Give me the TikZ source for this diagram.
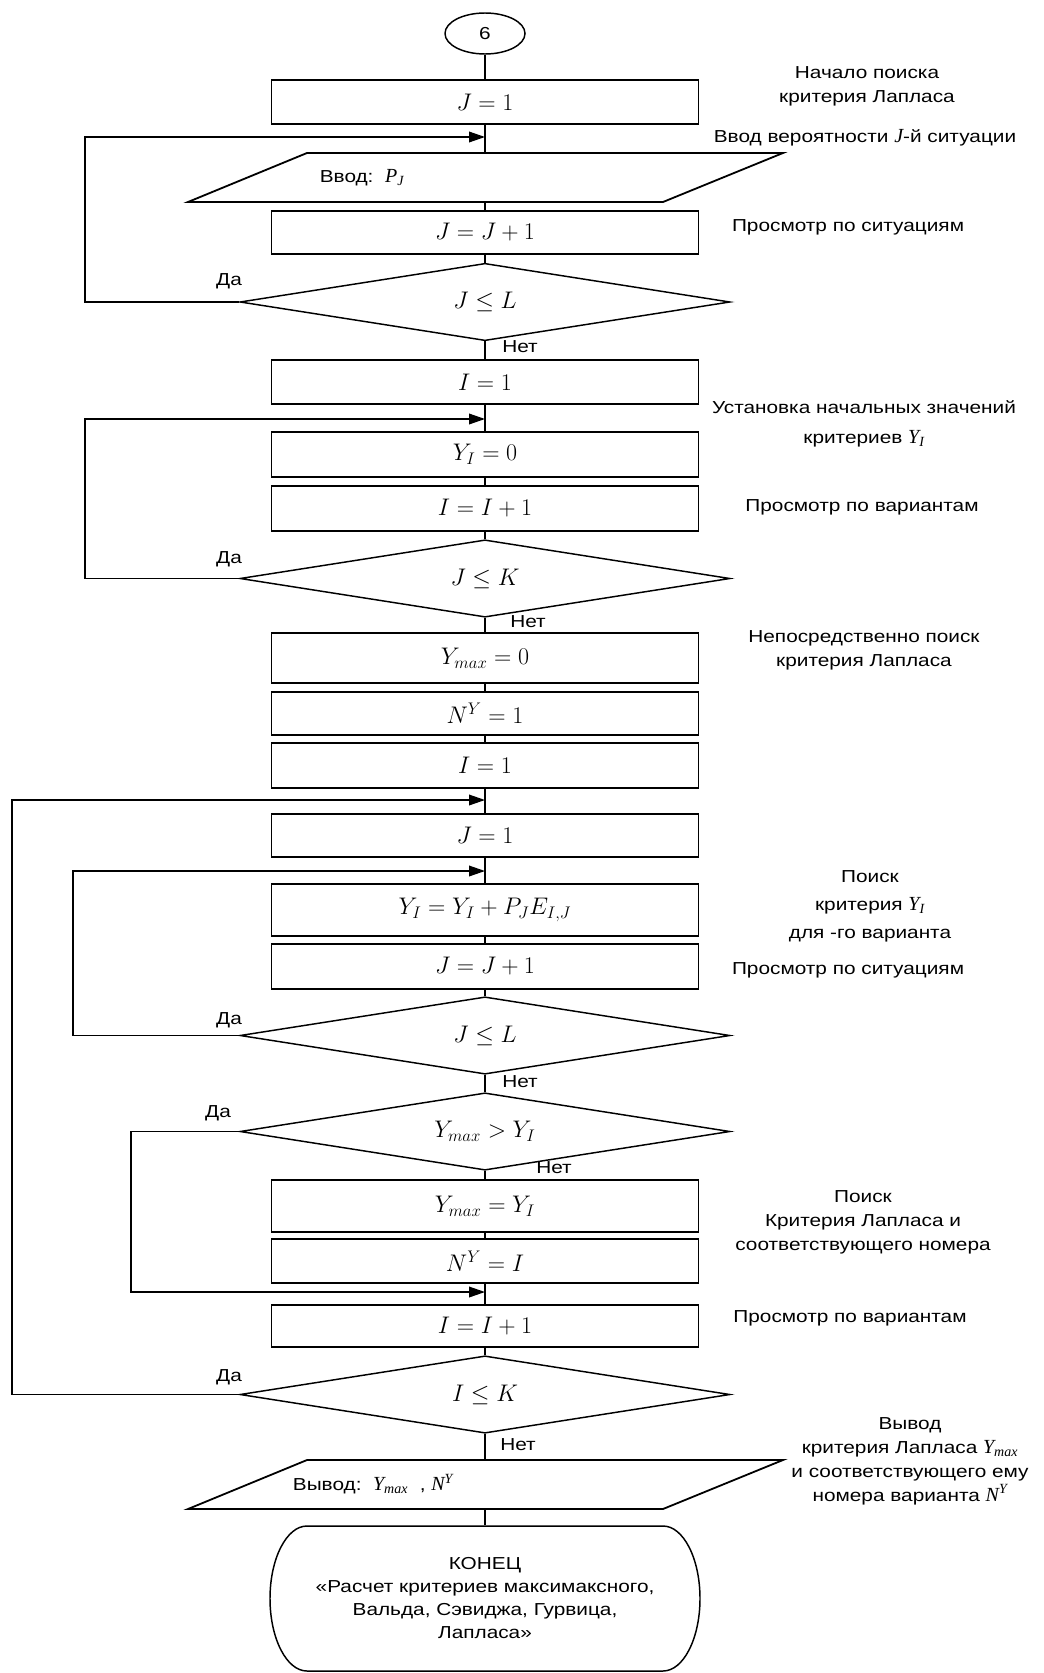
\RequirePackage{fix-cm}
\documentclass[tikz,border=0pt]{standalone}
\usepackage{fontspec}
\setmainfont{Liberation Sans}[FakeStretch=1.2]
\newfontfamily\serifit{Liberation Serif}
\usetikzlibrary{arrows.meta,shapes.geometric}
\newcommand{\vi}[1]{{\serifit\itshape\fontsize{15}{16}\selectfont #1}}
\begin{document}
\begin{tikzpicture}[x=0.75pt,y=-0.75pt,
  line width=1.1pt,
  box/.style={draw, rectangle, line width=1.35pt, minimum width=320.25pt, inner sep=0pt, font=\fontsize{18}{21}\selectfont},
  dec/.style={draw, diamond, aspect=6.3, minimum width=367.5pt, minimum height=58pt, inner sep=0pt, font=\fontsize{18}{21}\selectfont},
  ioanchor/.style={inner sep=0pt, minimum width=357pt, minimum height=36.75pt},
  iosh/.style={line width=1.35pt},
  note/.style={font=\fontsize{13}{18}\selectfont, align=center, inner sep=0pt},
  lbl/.style={font=\fontsize{13}{16}\selectfont, inner sep=0pt},
  loopback/.style={-{Triangle[length=12pt,width=8pt]}}
]
\useasboundingbox (0,0) rectangle (1044,1673);

% ---------- main column ----------
\node[draw, ellipse, minimum width=60pt, minimum height=30.75pt, inner sep=0pt, font=\fontsize{13}{15}\selectfont] (c6) at (485,33.5) {6};
\node[box, minimum height=33pt] (b1) at (485,102) {$J = 1$};
\coordinate (m1) at (485,137);
\node[ioanchor] (in1) at (485,177.5) {};
\draw[iosh] (307,153) -- (783,153) -- (663,202) -- (188,202) -- cycle;
\node[lbl] (in1t) at (362,178) {Ввод:\ \ \vi{P\textsubscript{J}}};
\node[box, minimum height=32.25pt] (b2) at (485,232.5) {$J = J + 1$};
\node[dec] (d1) at (485,302) {$J \leq L$};
\node[box, minimum height=33pt] (b3) at (485,382) {$I = 1$};
\coordinate (m2) at (485,419);
\node[box, minimum height=33.75pt] (b4) at (485,454.5) {$Y_I = 0$};
\node[box, minimum height=33.75pt] (b5) at (485,508.5) {$I = I + 1$};
\node[dec] (d2) at (485,578.5) {$J \leq K$};
\node[box, minimum height=37.5pt] (b6) at (485,658) {$Y_{max} = 0$};
\node[box, minimum height=32.25pt] (b7) at (485,713.5) {$N^Y = 1$};
\node[box, minimum height=33.75pt] (b8) at (485,765.5) {$I = 1$};
\coordinate (m3) at (485,800);
\node[box, minimum height=32.25pt] (b9) at (485,835.5) {$J = 1$};
\coordinate (m4) at (485,871);
\node[box, minimum height=39pt] (b10) at (485,910) {$Y_I = Y_I + P_J E_{I,J}$};
\node[box, minimum height=33.75pt] (b11) at (485,966.5) {$J = J + 1$};
\node[dec] (d3) at (485,1035.5) {$J \leq L$};
\node[dec] (d4) at (485,1131.5) {$Y_{max} > Y_I$};
\node[box, minimum height=39pt] (b12) at (485,1206) {$Y_{max} = Y_I$};
\node[box, minimum height=33pt] (b13) at (485,1261) {$N^Y = I$};
\coordinate (m5) at (485,1292);
\node[box, minimum height=31.5pt] (b14) at (485,1326) {$I = I + 1$};
\node[dec] (d5) at (485,1394.5) {$I \leq K$};
\node[ioanchor] (out1) at (485,1484.5) {};
\draw[iosh] (307,1460) -- (783,1460) -- (663,1509) -- (188,1509) -- cycle;
\node[lbl] (out1t) at (373,1484) {Вывод:\ \ \vi{Y\textsubscript{max}}\ \ , \vi{N\textsuperscript{Y}}};
\node[inner sep=0pt, minimum width=322.5pt, minimum height=108.75pt, align=center,
      font=\fontsize{13}{17.25}\selectfont] (end) at (485,1598.5)
  {КОНЕЦ\\«Расчет критериев максимаксного,\\Вальда, Сэвиджа, Гурвица,\\Лапласа»};
\draw (307,1526) -- (663,1526)
  .. controls (683.4,1526) and (700,1558.5) .. (700,1598.5)
  .. controls (700,1638.5) and (683.4,1671) .. (663,1671)
  -- (307,1671)
  .. controls (286.6,1671) and (270,1638.5) .. (270,1598.5)
  .. controls (270,1558.5) and (286.6,1526) .. (307,1526) -- cycle;

% ---------- straight connectors ----------
\draw (c6) -- (b1);
\draw (b1) -- (in1);
\draw (in1) -- (b2);
\draw (b2) -- (d1);
\draw (d1) -- (b3);
\draw (b3) -- (b4);
\draw (b4) -- (b5);
\draw (b5) -- (d2);
\draw (d2) -- (b6);
\draw (b6) -- (b7);
\draw (b7) -- (b8);
\draw (b8) -- (b9);
\draw (b9) -- (b10);
\draw (b10) -- (b11);
\draw (b11) -- (d3);
\draw (d3) -- (d4);
\draw (d4) -- (b12);
\draw (b12) -- (b13);
\draw (b13) -- (b14);
\draw (b14) -- (d5);
\draw (d5) -- (out1);
\draw (out1) -- (end);

% ---------- loop-back connectors ----------
\coordinate (x1) at (85,0);
\coordinate (x2) at (12,0);
\coordinate (x3) at (73,0);
\coordinate (x4) at (131,0);
\draw[loopback] (d1.west) -- (d1.west -| x1) |- (m1);
\draw[loopback] (d2.west) -- (d2.west -| x1) |- (m2);
\draw[loopback] (d5.west) -- (d5.west -| x2) |- (m3);
\draw[loopback] (d3.west) -- (d3.west -| x3) |- (m4);
\draw[loopback] (d4.west) -- (d4.west -| x4) |- (m5);

% ---------- branch labels ----------
\node[lbl] (da1) at (229,281) {Да};
\node[lbl] (da2) at (229,559) {Да};
\node[lbl] (da3) at (229,1020) {Да};
\node[lbl] (da4) at (218,1113) {Да};
\node[lbl] (da5) at (229,1377) {Да};
\node[lbl] (net1) at (520,347) {Нет};
\node[lbl] (net2) at (528,622) {Нет};
\node[lbl] (net3) at (520,1082) {Нет};
\node[lbl] (net4) at (554,1168) {Нет};
\node[lbl] (net5) at (518,1445) {Нет};

% ---------- comments on the right ----------
\node[note] (n1) at (867,86.5) {Начало поиска\\критерия Лапласа};
\node[note] (n2) at (865,138) {Ввод вероятности \vi{J}-й ситуации};
\node[note] (n3) at (848,227) {Просмотр по ситуациям};
\node[note] (n4) at (864,424) {Установка начальных значений\\[4pt]критериев \vi{Y\textsubscript{I}}};
\node[note] (n5) at (862,507) {Просмотр по вариантам};
\node[note] (n6) at (864,650) {Непосредственно поиск\\критерия Лапласа};
\node[note] (n7) at (870,906) {Поиск\\[3pt]критерия \vi{Y\textsubscript{I}}\\[3pt]для -го варианта};
\node[note] (n8) at (848,970) {Просмотр по ситуациям};
\node[note] (n9) at (863,1222) {Поиск\\Критерия Лапласа и\\соответствующего номера};
\node[note] (n10) at (850,1318) {Просмотр по вариантам};
\node[note] (n11) at (910,1461) {Вывод\\критерия Лапласа \vi{Y\textsubscript{max}}\\и соответствующего ему\\номера варианта \vi{N\textsuperscript{Y}}};
\end{tikzpicture}
\end{document}
